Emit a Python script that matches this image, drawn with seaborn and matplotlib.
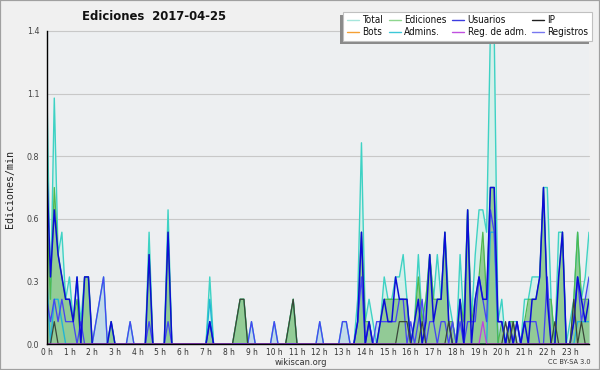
import numpy as np
import pandas as pd
import matplotlib
matplotlib.use("Agg")
import matplotlib.pyplot as plt
import seaborn as sns
from matplotlib.lines import Line2D
from matplotlib.patches import Rectangle
from matplotlib.ticker import FixedLocator, MultipleLocator

# ---------------- data (edits per minute, 10-minute bins) ----------------
hour_labels = [f"{h} h" for h in range(24)]
y_tick_values = [0.0, 0.28, 0.56, 0.84, 1.12, 1.4]
y_tick_labels = ["0.0", "0.3", "0.6", "0.8", "1.1", "1.4"]

total = [
    1.2, 0.2, 1.1, 0.4, 0.5, 0.2,   # 0h
    0.3, 0.1, 0.3, 0.1, 0.3, 0.3,   # 1h
    0.0, 0.1, 0.2, 0.3, 0.0, 0.1,   # 2h
    0.0, 0.0, 0.0, 0.0, 0.1, 0.0,   # 3h
    0.0, 0.0, 0.0, 0.5, 0.0, 0.0,   # 4h
    0.0, 0.0, 0.6, 0.0, 0.0, 0.0,   # 5h
    0.0, 0.0, 0.0, 0.0, 0.0, 0.0,   # 6h
    0.0, 0.3, 0.0, 0.0, 0.0, 0.0,   # 7h
    0.0, 0.0, 0.1, 0.2, 0.2, 0.0,   # 8h
    0.1, 0.0, 0.0, 0.0, 0.0, 0.0,   # 9h
    0.1, 0.0, 0.0, 0.0, 0.1, 0.2,   # 10h
    0.0, 0.0, 0.0, 0.0, 0.0, 0.0,   # 11h
    0.1, 0.0, 0.0, 0.0, 0.0, 0.0,   # 12h
    0.1, 0.1, 0.0, 0.0, 0.2, 0.9,   # 13h
    0.1, 0.2, 0.1, 0.0, 0.1, 0.3,   # 14h
    0.2, 0.2, 0.3, 0.3, 0.4, 0.2,   # 15h
    0.0, 0.1, 0.4, 0.1, 0.2, 0.4,   # 16h
    0.2, 0.4, 0.2, 0.5, 0.2, 0.1,   # 17h
    0.0, 0.4, 0.1, 0.6, 0.1, 0.4,   # 18h
    0.6, 0.6, 0.5, 1.4, 1.4, 0.1,   # 19h
    0.2, 0.0, 0.1, 0.1, 0.1, 0.0,   # 20h
    0.2, 0.2, 0.3, 0.3, 0.3, 0.7,   # 21h
    0.7, 0.2, 0.0, 0.5, 0.5, 0.0,   # 22h
    0.1, 0.2, 0.5, 0.2, 0.3, 0.5,   # 23h
]
ediciones = [
    0.6, 0.2, 0.7, 0.4, 0.3, 0.2,
    0.2, 0.1, 0.2, 0.0, 0.3, 0.3,
    0.0, 0.0, 0.0, 0.0, 0.0, 0.1,
    0.0, 0.0, 0.0, 0.0, 0.0, 0.0,
    0.0, 0.0, 0.0, 0.4, 0.0, 0.0,
    0.0, 0.0, 0.5, 0.0, 0.0, 0.0,
    0.0, 0.0, 0.0, 0.0, 0.0, 0.0,
    0.0, 0.1, 0.0, 0.0, 0.0, 0.0,
    0.0, 0.0, 0.1, 0.2, 0.2, 0.0,
    0.0, 0.0, 0.0, 0.0, 0.0, 0.0,
    0.0, 0.0, 0.0, 0.0, 0.1, 0.2,
    0.0, 0.0, 0.0, 0.0, 0.0, 0.0,
    0.0, 0.0, 0.0, 0.0, 0.0, 0.0,
    0.0, 0.0, 0.0, 0.0, 0.1, 0.5,
    0.1, 0.1, 0.0, 0.0, 0.1, 0.2,
    0.2, 0.2, 0.2, 0.2, 0.2, 0.2,
    0.0, 0.1, 0.3, 0.1, 0.2, 0.4,
    0.2, 0.2, 0.2, 0.5, 0.1, 0.1,
    0.0, 0.2, 0.1, 0.6, 0.1, 0.2,
    0.3, 0.5, 0.2, 0.7, 0.7, 0.0,
    0.1, 0.0, 0.1, 0.1, 0.0, 0.0,
    0.1, 0.2, 0.2, 0.2, 0.3, 0.7,
    0.2, 0.2, 0.0, 0.3, 0.5, 0.0,
    0.0, 0.2, 0.5, 0.2, 0.2, 0.2,
]
usuarios = [
    0.8, 0.3, 0.6, 0.4, 0.3, 0.2,
    0.2, 0.1, 0.3, 0.0, 0.3, 0.3,
    0.0, 0.0, 0.0, 0.0, 0.0, 0.1,
    0.0, 0.0, 0.0, 0.0, 0.0, 0.0,
    0.0, 0.0, 0.0, 0.4, 0.0, 0.0,
    0.0, 0.0, 0.5, 0.0, 0.0, 0.0,
    0.0, 0.0, 0.0, 0.0, 0.0, 0.0,
    0.0, 0.1, 0.0, 0.0, 0.0, 0.0,
    0.0, 0.0, 0.0, 0.0, 0.0, 0.0,
    0.0, 0.0, 0.0, 0.0, 0.0, 0.0,
    0.0, 0.0, 0.0, 0.0, 0.0, 0.0,
    0.0, 0.0, 0.0, 0.0, 0.0, 0.0,
    0.0, 0.0, 0.0, 0.0, 0.0, 0.0,
    0.0, 0.0, 0.0, 0.0, 0.1, 0.5,
    0.0, 0.1, 0.0, 0.0, 0.1, 0.2,
    0.1, 0.1, 0.3, 0.2, 0.2, 0.2,
    0.0, 0.1, 0.2, 0.0, 0.1, 0.4,
    0.1, 0.2, 0.2, 0.5, 0.1, 0.0,
    0.0, 0.2, 0.0, 0.6, 0.0, 0.2,
    0.3, 0.2, 0.2, 0.7, 0.7, 0.1,
    0.1, 0.0, 0.1, 0.0, 0.1, 0.0,
    0.1, 0.0, 0.2, 0.2, 0.3, 0.7,
    0.2, 0.0, 0.0, 0.3, 0.5, 0.0,
    0.0, 0.1, 0.3, 0.2, 0.1, 0.2,
]
ip = [
    0.0, 0.0, 0.1, 0.0, 0.0, 0.0,
    0.0, 0.0, 0.0, 0.0, 0.0, 0.0,
    0.0, 0.0, 0.0, 0.0, 0.0, 0.0,
    0.0, 0.0, 0.0, 0.0, 0.0, 0.0,
    0.0, 0.0, 0.0, 0.0, 0.0, 0.0,
    0.0, 0.0, 0.0, 0.0, 0.0, 0.0,
    0.0, 0.0, 0.0, 0.0, 0.0, 0.0,
    0.0, 0.0, 0.0, 0.0, 0.0, 0.0,
    0.0, 0.0, 0.1, 0.2, 0.2, 0.0,
    0.0, 0.0, 0.0, 0.0, 0.0, 0.0,
    0.0, 0.0, 0.0, 0.0, 0.1, 0.2,
    0.0, 0.0, 0.0, 0.0, 0.0, 0.0,
    0.0, 0.0, 0.0, 0.0, 0.0, 0.0,
    0.0, 0.0, 0.0, 0.0, 0.0, 0.0,
    0.0, 0.0, 0.0, 0.0, 0.0, 0.0,
    0.0, 0.0, 0.0, 0.1, 0.1, 0.1,
    0.0, 0.0, 0.0, 0.1, 0.0, 0.0,
    0.0, 0.0, 0.0, 0.0, 0.1, 0.0,
    0.0, 0.0, 0.0, 0.0, 0.0, 0.0,
    0.0, 0.0, 0.0, 0.0, 0.0, 0.0,
    0.0, 0.1, 0.0, 0.1, 0.0, 0.0,
    0.0, 0.0, 0.0, 0.0, 0.0, 0.0,
    0.0, 0.0, 0.1, 0.0, 0.0, 0.0,
    0.0, 0.2, 0.0, 0.1, 0.0, 0.0,
]
bots = [0.0] * 144
admins = [
    0.3, 0.0, 0.2, 0.2, 0.1, 0.0,
    0.0, 0.0, 0.0, 0.0, 0.0, 0.0,
    0.0, 0.0, 0.0, 0.0, 0.0, 0.0,
    0.0, 0.0, 0.0, 0.0, 0.0, 0.0,
    0.0, 0.0, 0.0, 0.0, 0.0, 0.0,
    0.0, 0.0, 0.0, 0.0, 0.0, 0.0,
    0.0, 0.0, 0.0, 0.0, 0.0, 0.0,
    0.0, 0.2, 0.0, 0.0, 0.0, 0.0,
    0.0, 0.0, 0.0, 0.0, 0.0, 0.0,
    0.0, 0.0, 0.0, 0.0, 0.0, 0.0,
    0.0, 0.0, 0.0, 0.0, 0.0, 0.0,
    0.0, 0.0, 0.0, 0.0, 0.0, 0.0,
    0.0, 0.0, 0.0, 0.0, 0.0, 0.0,
    0.0, 0.0, 0.0, 0.0, 0.0, 0.0,
    0.0, 0.0, 0.0, 0.0, 0.0, 0.0,
    0.0, 0.0, 0.0, 0.0, 0.0, 0.0,
    0.0, 0.0, 0.0, 0.0, 0.0, 0.0,
    0.0, 0.0, 0.0, 0.0, 0.0, 0.0,
    0.0, 0.0, 0.0, 0.0, 0.0, 0.0,
    0.0, 0.0, 0.0, 0.5, 0.5, 0.0,
    0.0, 0.0, 0.0, 0.0, 0.0, 0.0,
    0.0, 0.0, 0.0, 0.0, 0.0, 0.0,
    0.0, 0.0, 0.0, 0.0, 0.0, 0.0,
    0.0, 0.0, 0.1, 0.1, 0.1, 0.1,
]
reg_adm = [0.0] * 115 + [0.1] + [0.0] * 28
registros = [
    0.2, 0.1, 0.2, 0.1, 0.2, 0.1,
    0.1, 0.1, 0.0, 0.1, 0.0, 0.0,
    0.0, 0.1, 0.2, 0.3, 0.0, 0.0,
    0.0, 0.0, 0.0, 0.0, 0.1, 0.0,
    0.0, 0.0, 0.0, 0.1, 0.0, 0.0,
    0.0, 0.0, 0.1, 0.0, 0.0, 0.0,
    0.0, 0.0, 0.0, 0.0, 0.0, 0.0,
    0.0, 0.1, 0.0, 0.0, 0.0, 0.0,
    0.0, 0.0, 0.0, 0.0, 0.0, 0.0,
    0.1, 0.0, 0.0, 0.0, 0.0, 0.0,
    0.1, 0.0, 0.0, 0.0, 0.0, 0.0,
    0.0, 0.0, 0.0, 0.0, 0.0, 0.0,
    0.1, 0.0, 0.0, 0.0, 0.0, 0.0,
    0.1, 0.1, 0.0, 0.0, 0.1, 0.3,
    0.0, 0.1, 0.0, 0.1, 0.1, 0.1,
    0.1, 0.1, 0.1, 0.2, 0.2, 0.0,
    0.1, 0.0, 0.1, 0.2, 0.0, 0.1,
    0.1, 0.0, 0.1, 0.1, 0.0, 0.1,
    0.0, 0.1, 0.0, 0.1, 0.1, 0.1,
    0.3, 0.2, 0.1, 0.6, 0.5, 0.1,
    0.1, 0.0, 0.1, 0.0, 0.1, 0.0,
    0.1, 0.1, 0.1, 0.1, 0.0, 0.0,
    0.3, 0.0, 0.0, 0.0, 0.0, 0.0,
    0.0, 0.1, 0.3, 0.1, 0.2, 0.3,
]

series = {
    "Total": total, "Ediciones": ediciones, "Usuarios": usuarios, "IP": ip,
    "Bots": bots, "Admins.": admins, "Reg. de adm.": reg_adm, "Registros": registros,
}
n = len(total)
df = pd.DataFrame({"bin": np.arange(n), **series})

# ---------------- style ----------------
sns.set_theme(style="white")
plt.rcParams["font.family"] = ["DejaVu Sans"]

BG = "#f0f0f0"
fig = plt.figure(figsize=(6.0, 3.7), dpi=100, facecolor=BG)
ax = fig.add_axes([46.7 / 600, 26 / 370, (589 - 46.7) / 600, 313 / 370])
ax.set_facecolor("#edeff1")

# fills
ax.fill_between(df["bin"], 0, df["Total"], color="#d6efea", lw=0, zorder=1)
ax.fill_between(df["bin"], 0, df["Registros"], color="#c3dbe8", lw=0, zorder=1.2)
ax.fill_between(df["bin"], 0, df["Ediciones"], color="#8ec98f", alpha=0.92, lw=0, zorder=1.4)

line_styles = [
    ("Bots", "#f0a040", 1.0, 1.5),
    ("Total", "#3ed2c4", 1.0, 2.0),
    ("Admins.", "#22b5d5", 1.0, 2.1),
    ("Ediciones", "#4fb84f", 0.9, 2.2),
    ("Registros", "#4646f2", 0.95, 2.3),
    ("Usuarios", "#0c0cd8", 1.1, 2.4),
    ("IP", "#3a463a", 0.9, 2.5),
    ("Reg. de adm.", "#c040e0", 0.9, 2.6),
]
for name, col, lw, z in line_styles:
    sns.lineplot(data=df, x="bin", y=name, color=col, linewidth=lw,
                 estimator=None, ax=ax, zorder=z, legend=False)

ax.set_xlim(0, n - 1)
ax.set_ylim(0, 1.4)
ax.set_xlabel("")
ax.set_ylabel("")

ax.xaxis.set_major_locator(FixedLocator(np.arange(0, n, 6)))
ax.set_xticklabels(hour_labels)
ax.xaxis.set_minor_locator(MultipleLocator(1))
ax.yaxis.set_major_locator(FixedLocator(y_tick_values))
ax.set_yticklabels(y_tick_labels)
ax.yaxis.set_minor_locator(MultipleLocator(0.07))

ax.tick_params(axis="x", which="major", direction="out", length=2.4, width=0.9,
               color="black", labelsize=6.0, labelcolor="#333333", pad=0.2)
ax.tick_params(axis="x", which="minor", direction="out", length=2.2, width=0.8, color="black")
ax.tick_params(axis="y", which="major", direction="out", length=4.5, width=0.8,
               color="black", labelsize=5.8, labelcolor="#444444", pad=0.8)
ax.tick_params(axis="y", which="minor", direction="out", length=2.2, width=0.7, color="black")
for t in ax.get_xticklabels():
    t.set_fontstretch("condensed")

for sp in ["top", "right"]:
    ax.spines[sp].set_visible(False)
for sp in ["left", "bottom"]:
    ax.spines[sp].set_visible(True)
    ax.spines[sp].set_color("black")
    ax.spines[sp].set_linewidth(1.0)
    ax.spines[sp].set_zorder(5)

for yv in y_tick_values[1:]:
    ax.axhline(yv, color="#c8c8c8", lw=0.8, zorder=0.5, clip_on=False)

# texts
fig.text(154 / 600, 1 - 17 / 370, "Ediciones  2017-04-25", ha="center", va="center",
         fontsize=8.4, fontweight="bold", color="#111111")
fig.text(10 / 600, 1 - 189 / 370, "Ediciones/min", rotation=90, ha="center", va="center",
         fontsize=7.2, family="DejaVu Sans Mono", color="#222222")
fig.text(301 / 600, 1 - 362.5 / 370, "wikiscan.org", ha="center", va="center",
         fontsize=6.0, color="#333333")
fig.text(569 / 600, 1 - 362.5 / 370, "CC BY-SA 3.0", ha="center", va="center",
         fontsize=4.8, color="#333333")

# legend
legend_colors = {
    "Total": "#a6e6dc", "Bots": "#f5a033", "Ediciones": "#8ed68e", "Admins.": "#3cc8d8",
    "Usuarios": "#3c3ce0", "Reg. de adm.": "#c050e0", "IP": "#202020", "Registros": "#7878f0",
}
order = ["Total", "Bots", "Ediciones", "Admins.", "Usuarios", "Reg. de adm.", "IP", "Registros"]
handles = [Line2D([0], [0], color=legend_colors[k], lw=1.0) for k in order]
leg = fig.legend(handles, order, ncol=4, loc="upper right",
                 bbox_to_anchor=(592 / 600, 1 - 12 / 370), frameon=True, fancybox=False,
                 edgecolor="#c0c0c0", facecolor="white", framealpha=1, fontsize=7.1,
                 handlelength=1.2, handletextpad=0.35, columnspacing=0.6,
                 labelspacing=0.2, borderpad=0.35, borderaxespad=0)
leg.get_frame().set_linewidth(0.8)
for t in leg.get_texts():
    t.set_color("#111111")
    t.set_fontstretch("condensed")
leg.set_zorder(10)

fig.canvas.draw()
bb = leg.get_window_extent()
inv = fig.transFigure.inverted()
(x0, y0) = inv.transform((bb.x0 - 3, bb.y0 - 3))
(x1, y1) = inv.transform((bb.x1 - 3, bb.y1 - 3))
fig.add_artist(Rectangle((x0, y0), x1 - x0, y1 - y0, transform=fig.transFigure,
                         facecolor="#8a8a8a", edgecolor="none", zorder=9))

fig.add_artist(Rectangle((0, 0), 1, 1, transform=fig.transFigure, fill=False,
                         edgecolor="#a0a0a0", lw=1.6, zorder=20))

fig.savefig("out.png", dpi=100, facecolor=BG)
